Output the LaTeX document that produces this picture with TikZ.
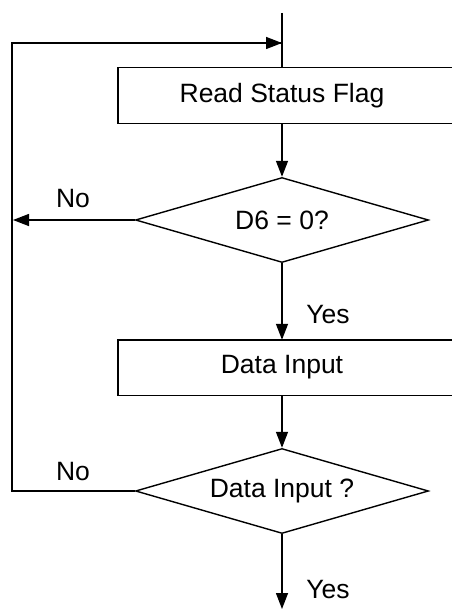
\documentclass[tikz,border=0pt]{standalone}
\usepackage{fontspec}
\setmainfont{Liberation Sans}
\usetikzlibrary{shapes.geometric,arrows.meta}
\begin{document}
\begin{tikzpicture}[x=1pt,y=-1pt,
  line/.style={line width=1.4pt},
  arr/.style={line, -{Triangle[length=16pt,width=12pt]}},
  proc/.style={draw=none, minimum width=328pt, minimum height=55pt, inner sep=0pt, font=\fontsize{26.5}{30}\selectfont},
  dec/.style={diamond, draw, line width=1.4pt, minimum width=293pt, minimum height=85pt, inner sep=0pt, aspect=3.4, font=\fontsize{26.5}{30}\selectfont},
  lbl/.style={font=\fontsize{26.5}{30}\selectfont, inner sep=0pt}]
\useasboundingbox (0,0) rectangle (452,610);
\clip (0,0) rectangle (452,610);
% nodes
\coordinate (top) at (282,13);
\node[proc] (read) at (282,95.5) {Read Status Flag};
\node[dec] (d1) at (282,220) {D6 = 0?};
\node[proc] (data) at (282,367.5) {Data Input};
\node[dec] (d2) at (282,491) {Data Input ?};
\coordinate (end) at (282,609);
\coordinate (loopbl) at (12,491);
\coordinate (looptl) at (12,43);
\coordinate (looptr) at (282,43);
\coordinate (noend) at (13,220);
% box outlines (open to the right, cut by the picture edge)
\draw[line] ([xshift=40pt]read.north east) -- (read.north west) -- (read.south west) -- ([xshift=40pt]read.south east);
\draw[line] ([xshift=40pt]data.north east) -- (data.north west) -- (data.south west) -- ([xshift=40pt]data.south east);
% connectors
\draw[line] (top) -- (read.north);
\draw[arr] (read.south) -- (d1.north);
\draw[arr] (d1.west) -- (noend);
\draw[arr] (d1.south) -- (data.north);
\draw[arr] (data.south) -- (d2.north);
\draw[arr] (d2.south) -- (end);
\draw[line] (d2.west) -- (loopbl) -- (looptl) -- (looptr);
\draw[arr] (looptl) -- (looptr);
% labels
\node[lbl] (no1) at (73,199) {No};
\node[lbl] (yes1) at (328,315) {Yes};
\node[lbl] (no2) at (73,472) {No};
\node[lbl] (yes2) at (328,590) {Yes};
\end{tikzpicture}
\end{document}
